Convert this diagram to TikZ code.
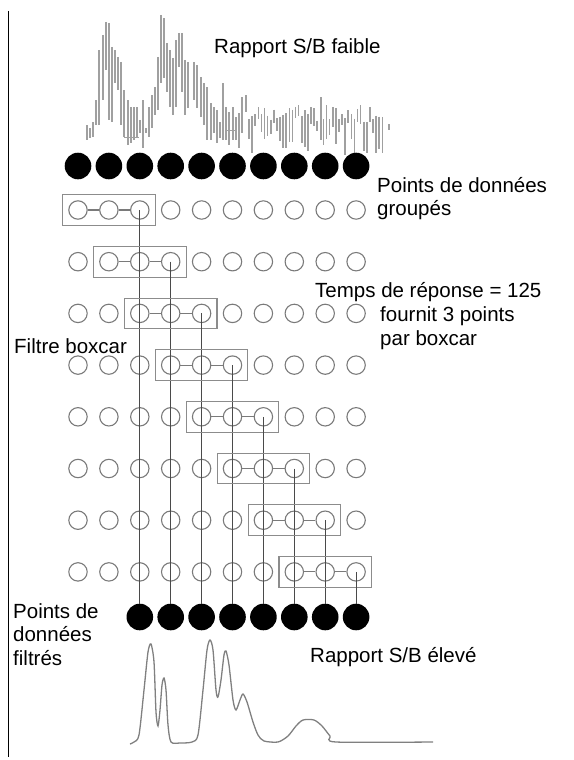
\documentclass[tikz,border=0pt]{standalone}
\usepackage{fontspec}
\setmainfont{Liberation Sans}
\usetikzlibrary{positioning,fit}
\definecolor{Ring}{HTML}{7A7A7A}
\definecolor{Wire}{HTML}{4A4A4A}
\definecolor{Frame}{HTML}{8C8C8C}
\definecolor{Trace}{HTML}{A0A0A0}
\definecolor{Smooth}{HTML}{808080}
\tikzset{
  opendot/.style={circle, draw=Ring, line width=1.1pt, minimum size=18.4pt, inner sep=0pt},
  fulldot/.style={circle, fill=black, minimum size=26.6pt, inner sep=0pt},
  boxframe/.style={draw=Frame, line width=1.1pt, inner sep=5.6pt},
  linkline/.style={draw=Ring, line width=1.1pt},
  dropline/.style={draw=Wire, line width=1.2pt},
  noisebar/.style={draw=Trace, line width=1.6pt},
  cleancurve/.style={draw=Smooth, line width=1.3pt},
  labeltext/.style={font=\fontsize{20.5}{23.5}\selectfont, inner sep=0pt, align=left},
}

\begin{document}
\begin{tikzpicture}[x=1pt,y=-1pt]
\useasboundingbox (0,0) rectangle (573,760);
\draw[black,line width=1pt] (8,11) -- (8,757);

% noisy raw signal
\foreach \x/\t/\b in {87/125/140, 90/128/138, 93/122/137, 96/100/125, 99/50/125, 103/35/100,
  106/22/70, 109/23/120, 112/47/122, 115/50/83, 118/57/90, 121/62/125, 124/90/137,
  128/100/145, 131/107/143, 134/107/140, 137/107/137, 140/120/133, 143/100/148,
  146/128/133, 149/107/137, 152/95/128, 155/87/115, 158/57/110, 161/15/83, 164/18/78,
  167/43/92, 170/50/107, 173/58/115, 176/40/107, 179/33/67, 182/33/92, 185/60/115,
  188/62/108, 194/62/100, 197/65/108, 201/77/117, 204/83/125, 207/87/140, 211/103/140,
  214/107/133, 217/110/143, 220/122/138, 223/83/140, 226/107/140, 229/112/145,
  233/107/140, 236/117/140, 239/113/148, 242/97/133, 246/95/112}
  \draw[noisebar] (\x,\t) -- (\x,\b);
\pgfmathsetseed{17}
\foreach \x in {249,252.1,...,383} {
  \pgfmathsetmacro{\t}{105+17*rnd}
  \pgfmathsetmacro{\b}{\t+10+28*rnd}
  \draw[noisebar] (\x,\t) -- (\x,\b);
}
\draw[noisebar] (321,97) -- (321,140);
\draw[noisebar] (389,124) -- (389,130);
\draw[noisebar,line width=1pt] (124,137) -- (139,137);
\draw[noisebar,line width=1pt] (227,130) -- (237,130);
\node[labeltext,anchor=base west] (lowsn) at (214,53) {Rapport S/B faible};

% raw points
\foreach \i in {0,...,9}
  \node[fulldot] (top-\i) at ({78+30.9*\i},166) {};
\node[labeltext,anchor=base west] (grouped) at (377,215.5) {Points de données\\groupés};

% boxcar rows
\foreach \k in {1,...,8}
  \foreach \i in {0,...,9}
    \node[opendot] (c-\k-\i) at ({78+30.9*\i},{210+51.7*(\k-1)}) {};
\foreach \i in {2,...,9}
  \node[fulldot] (bot-\i) at ({78+30.9*\i},617) {};
\foreach \k [evaluate=\k as \a using int(\k-1), evaluate=\k as \b using int(\k+1)] in {1,...,8} {
  \node[boxframe,fit=(c-\k-\a)(c-\k-\b)] (box-\k) {};
  \draw[linkline] (c-\k-\a) -- (c-\k-\k);
  \draw[linkline] (c-\k-\k) -- (c-\k-\b);
  \draw[dropline] (c-\k-\b.center) -- (bot-\b);
}
\node[labeltext,anchor=base west] (response) at (315,297) {Temps de réponse = 125};
\node[labeltext,anchor=base west] (perbox) at (380,345) {fournit 3 points\\par boxcar};
\node[labeltext,anchor=base west] (filtername) at (14,353) {Filtre boxcar};
\node[labeltext,anchor=base west] (filtered) at (13,665) {Points de\\données\\filtrés};

% filtered signal
\draw[cleancurve] plot[smooth,tension=0.45] coordinates {(130,744) (134,742) (139,735) (144,690)
  (148,652) (151,644) (154,662) (156,712) (158,726) (160,710) (162,685) (164,678) (166,690)
  (168,725) (171,742) (180,743) (192,742) (198,735) (203,690) (207,650) (210,640) (213,650)
  (216,690) (218,697) (221,680) (224,655) (226,651) (229,665) (233,700) (236,710) (240,700)
  (243,694) (247,702) (253,722) (258,735) (264,741) (278,742) (288,736) (296,726) (303,720)
  (314,720) (322,726) (330,736) (336,742) (433,742)};
\node[labeltext,anchor=base west] (highsn) at (310,662) {Rapport S/B élevé};
\end{tikzpicture}
\end{document}
